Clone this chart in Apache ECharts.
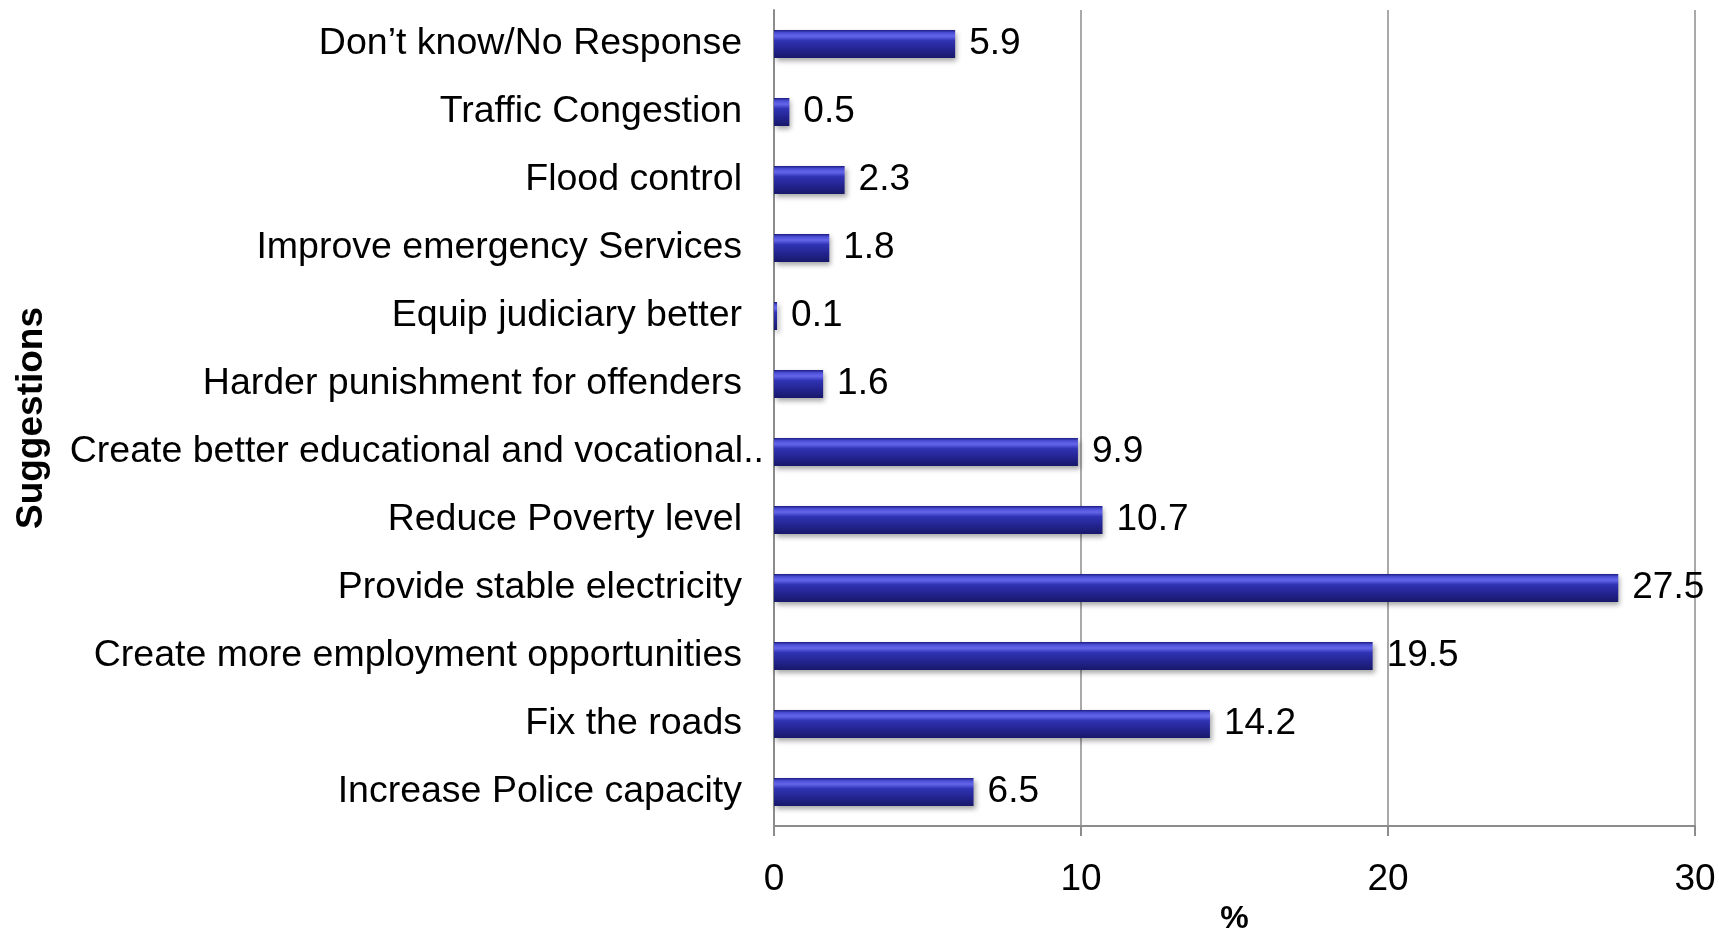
<!DOCTYPE html>
<html><head><meta charset="utf-8">
<script src="https://cdn.jsdelivr.net/npm/echarts@6/dist/echarts.min.js"></script>
<style>html,body{margin:0;padding:0;background:#fff}#c{width:1719px;height:929px}</style>
</head><body><div id="c"></div>
<script>
// Categories listed top to bottom as in the picture
var categories = [
  "Don’t know/No Response",
  "Traffic Congestion",
  "Flood control",
  "Improve emergency Services",
  "Equip judiciary better",
  "Harder punishment for offenders",
  "Create better educational and vocational..",
  "Reduce Poverty level",
  "Provide stable electricity",
  "Create more employment opportunities",
  "Fix the roads",
  "Increase Police capacity"
];
var values = [5.9, 0.5, 2.3, 1.8, 0.1, 1.6, 9.9, 10.7, 27.5, 19.5, 14.2, 6.5];
var xTicks = [0, 10, 20, 30];

var FONT = "'Liberation Sans', Arial, Helvetica, sans-serif";
// the long truncated label overflows toward the axis in the original
var yData = categories.map(function (c) {
  if (c.indexOf('..') > 0) {
    return {value: c, textStyle: {padding: [0, -22, 0, 0]}};
  }
  return c;
});

var chart = echarts.init(document.getElementById('c'), null, {renderer: 'canvas'});
chart.setOption({
  animation: false,
  backgroundColor: '#ffffff',
  grid: {left: 774, right: 24, top: 10, bottom: 103, containLabel: false, outerBoundsMode: 'none'},
  xAxis: {
    type: 'value', min: xTicks[0], max: xTicks[xTicks.length - 1], interval: 10,
    name: '%', nameLocation: 'middle', nameGap: 73,
    nameTextStyle: {fontFamily: FONT, fontWeight: 'bold', fontSize: 32, color: '#000'},
    axisLine: {show: true, lineStyle: {color: '#8c8c8c', width: 2}},
    axisTick: {show: true, length: 10, lineStyle: {color: '#8c8c8c', width: 2}},
    axisLabel: {fontFamily: FONT, fontSize: 37, color: '#000', margin: 35},
    splitLine: {show: true, lineStyle: {color: '#8c8c8c', width: 1.5}}
  },
  yAxis: {
    type: 'category', data: yData, inverse: true,
    name: 'Suggestions', nameLocation: 'middle', nameGap: 724, nameRotate: 90,
    nameMoveOverlap: false,
    nameTextStyle: {fontFamily: FONT, fontWeight: 'bold', fontSize: 37, color: '#000'},
    axisLine: {show: true, lineStyle: {color: '#8c8c8c', width: 2}},
    axisTick: {show: false},
    axisLabel: {fontFamily: FONT, fontSize: 37.5, color: '#000', margin: 32},
    splitLine: {show: false}
  },
  series: [{
    type: 'bar', data: values, barWidth: 28,
    itemStyle: {
      color: new echarts.graphic.LinearGradient(0, 0, 0, 1, [
        {offset: 0, color: '#1c1c80'},
        {offset: 0.1, color: '#4c4fd6'},
        {offset: 0.22, color: '#6466ea'},
        {offset: 0.38, color: '#3033b4'},
        {offset: 0.7, color: '#23238f'},
        {offset: 1, color: '#18186a'}
      ]),
      shadowColor: 'rgba(0,0,0,0.35)', shadowBlur: 5, shadowOffsetX: 2, shadowOffsetY: 3
    },
    label: {show: true, position: 'right', distance: 14, fontFamily: FONT, fontSize: 37, color: '#000'}
  }]
});
</script></body></html>
